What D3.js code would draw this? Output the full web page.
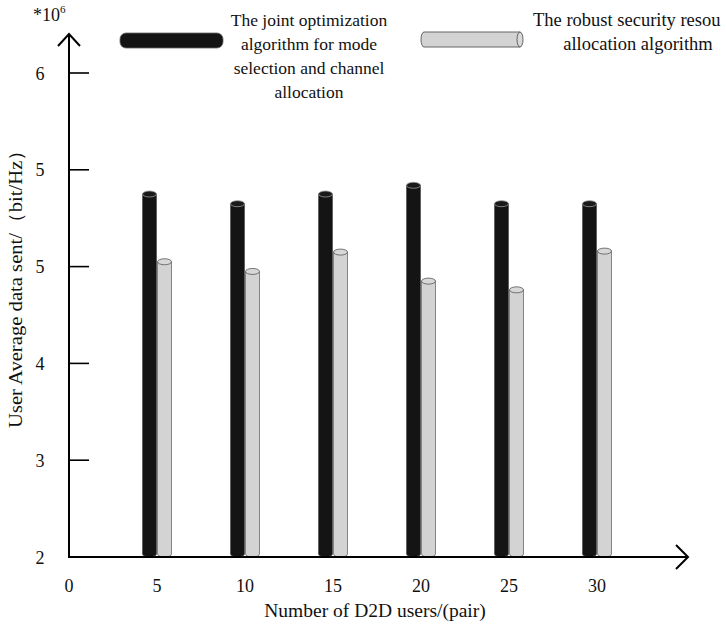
<!DOCTYPE html>
<html><head><meta charset="utf-8">
<script src="https://cdn.jsdelivr.net/npm/d3@7/dist/d3.min.js"></script>
<style>body{margin:0;background:#fff}svg{display:block}text{font-family:"Liberation Serif","Times New Roman",serif;fill:#111}</style>
</head><body><svg id="c" width="726" height="628"></svg>
<script>
const categories = [5, 10, 15, 20, 25, 30];
const jointValues = [5.75, 5.65, 5.75, 5.84, 5.65, 5.65];
const robustValues = [5.05, 4.95, 5.15, 4.85, 4.76, 5.16];
const xTickValues = [0, 5, 10, 15, 20, 25, 30];
const yTickValues = [2, 3, 4, 5, 6, 7];
const yTickLabels = ["2", "3", "4", "5", "5", "6"];
const seriesNames = [
  ["The joint optimization", "algorithm for mode", "selection and channel", "allocation"],
  ["The robust security resou", "allocation algorithm"]
];

const svg = d3.select("#c");
const x = d3.scaleLinear().domain([0, 30]).range([69, 597]);
const y = d3.scaleLinear().domain([2, 7]).range([557, 73]);
const bw = 14, ry = 3;

function cyl(g, x0, top, bottom, fill, stroke, capFill, capStroke) {
  const path = `M${x0},${top} L${x0},${bottom - ry} A${bw/2},${ry} 0 0 0 ${x0+bw},${bottom - ry} L${x0+bw},${top}`;
  g.append("path").attr("d", path + " Z").attr("fill", fill).attr("stroke", stroke).attr("stroke-width", 0.8);
  g.append("ellipse").attr("cx", x0 + bw/2).attr("cy", top).attr("rx", bw/2).attr("ry", ry)
    .attr("fill", capFill).attr("stroke", capStroke).attr("stroke-width", 0.8);
}
const bars = svg.append("g");
categories.forEach((c, i) => {
  cyl(bars, x(c) - bw - 0.5, y(jointValues[i]), y(2), "#141414", "#555", "#1a1a1a", "#999");
  cyl(bars, x(c) + 0.5, y(robustValues[i]), y(2), "#d3d3d3", "#6a6a6a", "#d8d8d8", "#555");
});

const ax = svg.append("g").attr("stroke", "#000").attr("stroke-width", 2).attr("fill", "none");
ax.append("line").attr("x1", x(0)).attr("x2", x(0)).attr("y1", y(2) + 1).attr("y2", 34);
ax.append("path").attr("d", `M${x(0)-11},46 L${x(0)},34 L${x(0)+11},46`);
ax.append("line").attr("x1", x(0) - 1).attr("x2", 687).attr("y1", y(2)).attr("y2", y(2));
ax.append("path").attr("d", `M676,545 L688,557 L676,569`);
yTickValues.slice(1).forEach(v => {
  ax.append("line").attr("x1", x(0)).attr("x2", x(0) + 20).attr("y1", y(v)).attr("y2", y(v)).attr("stroke-width", 1.6);
});

svg.append("g").selectAll("text").data(yTickValues).join("text")
  .attr("x", 40).attr("y", d => y(d) + 6.5).attr("text-anchor", "middle")
  .attr("font-size", 18).text((d, i) => yTickLabels[i]);
svg.append("g").selectAll("text").data(xTickValues).join("text")
  .attr("x", d => x(d)).attr("y", 592).attr("text-anchor", "middle")
  .attr("font-size", 18).text(d => d);

const u = svg.append("text").attr("x", 33).attr("y", 21).attr("font-size", 18);
u.append("tspan").text("*10");
u.append("tspan").attr("font-size", 11).attr("dy", -8).text("6");

svg.append("text").attr("x", 375).attr("y", 617).attr("text-anchor", "middle").attr("font-size", 19.5)
  .text("Number of D2D users/(pair)");
svg.append("text").attr("transform", "translate(22,284) rotate(-90)").attr("text-anchor", "middle")
  .attr("font-size", 19).attr("textLength", 288).attr("lengthAdjust", "spacingAndGlyphs")
  .text("User Average data sent/（bit/Hz）");

const lg = svg.append("g");
lg.append("rect").attr("x", 120).attr("y", 33).attr("width", 103).attr("height", 15).attr("rx", 6)
  .attr("fill", "#141414").attr("stroke", "#666").attr("stroke-width", 0.8);
lg.append("path").attr("d", "M424,32 L520,32 L520,47 L424,47 A3,7.5 0 0 1 424,32 Z")
  .attr("fill", "#d3d3d3").attr("stroke", "#555").attr("stroke-width", 0.9);
lg.append("ellipse").attr("cx", 520).attr("cy", 39.5).attr("rx", 3).attr("ry", 7.5)
  .attr("fill", "#d8d8d8").attr("stroke", "#555").attr("stroke-width", 0.9);
seriesNames[0].forEach((t, i) => {
  lg.append("text").attr("x", 309).attr("y", 26 + i * 24).attr("text-anchor", "middle").attr("font-size", 17.5).text(t);
});
lg.append("text").attr("x", 533).attr("y", 26).attr("font-size", 18.5).text(seriesNames[1][0]);
lg.append("text").attr("x", 638).attr("y", 50).attr("text-anchor", "middle").attr("font-size", 18.5).text(seriesNames[1][1]);
</script></body></html>
